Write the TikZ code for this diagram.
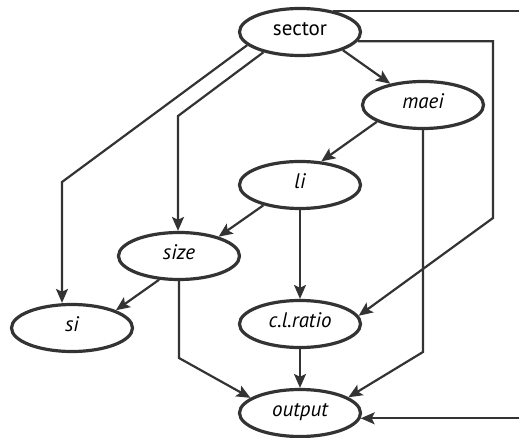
\documentclass[tikz,border=0pt]{standalone}
\usepackage{fontspec}
\setmainfont{PT Sans}
\usetikzlibrary{arrows.meta,shapes.geometric}
\definecolor{ink}{HTML}{333333}
\begin{document}
\begin{tikzpicture}[x=1pt,y=-1pt,
  var/.style={ellipse,draw=ink,line width=3.2pt,minimum width=121pt,minimum height=47pt,inner sep=0pt,
    font=\fontsize{21}{25}\selectfont\itshape,text=black,text height=1.4ex,text depth=0.1ex},
  conn/.style={draw=ink,line width=2.2pt,line join=miter,-{Stealth[length=14pt,width=12pt,inset=3pt]}}]
\useasboundingbox (0,0) rectangle (519,438);
\clip (0,0) rectangle (519,438);
% nodes
\node[var,font=\fontsize{21}{25}\selectfont\upshape] (sector) at (300,32) {sector};
\node[var] (maei) at (423,105) {maei};
\node[var] (li) at (300,185) {li};
\node[var] (size) at (179,256) {size};
\node[var] (si) at (72,328) {si};
\node[var] (clratio) at (300,324) {c.l.ratio};
\node[var] (output) at (300,413) {output};
% bend points
\coordinate (c1) at (62,182);
\coordinate (c2) at (178,116);
\coordinate (c3) at (493,218);
\coordinate (c4) at (525,10);
\coordinate (c6) at (423,352);
\coordinate (c7) at (179,358);
% connectors
\draw[conn] (sector.-23) -- (maei.147);
\draw[conn] (sector.194) -- (c1) -- (c1 |- si.north);
\draw[conn] (sector.209) -- (c2) -- (c2 |- size.north);
\draw[conn] (sector.-9) -| (c3) -- (clratio.8);
\draw[conn,line width=1.8pt] (sector.33) -- (sector.33 -| c4) |- (output.-5);
\draw[conn] (maei.200) -- (li.48);
\draw[conn] (maei.south) -- (c6) -- (output.18);
\draw[conn] (li.209) -- (size.26);
\draw[conn] (li.south) -- (clratio.north);
\draw[conn] (size.230) -- (si.22);
\draw[conn] (size.south) -- (c7) -- (output.163);
\draw[conn] (clratio.south) -- (output.north);
\end{tikzpicture}
\end{document}
